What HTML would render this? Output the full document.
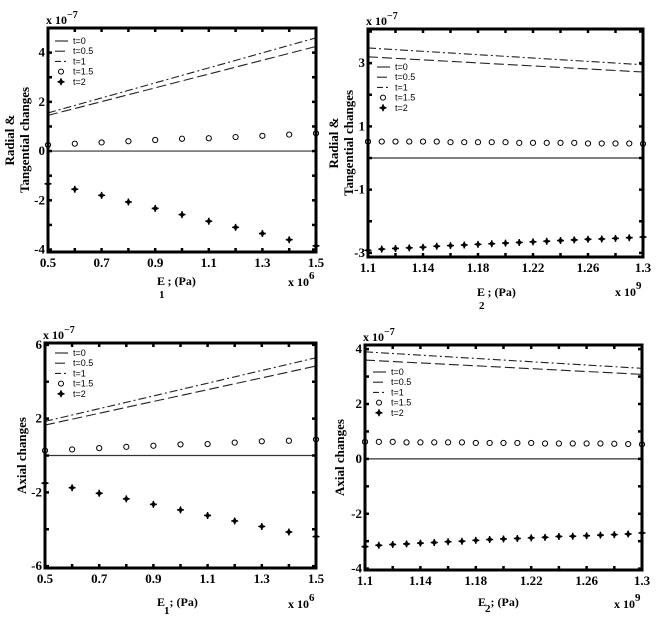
<!DOCTYPE html>
<html><head><meta charset="utf-8">
<style>
html,body{margin:0;padding:0;background:#fff;}
svg{display:block;}
text{font-family:"Liberation Serif",serif;font-weight:bold;fill:#000;}
.lg{font-family:"Liberation Sans",sans-serif;font-weight:normal;font-size:9px;}
</style></head>
<body>
<svg id="c" width="660" height="623" viewBox="0 0 660 623" xmlns="http://www.w3.org/2000/svg"></svg>
<script>
// ---- data (units of 1e-7) ----
const xE1 = [0.5,0.6,0.7,0.8,0.9,1.0,1.1,1.2,1.3,1.4,1.5];
const xE2 = [1.10,1.11,1.12,1.13,1.14,1.15,1.16,1.17,1.18,1.19,1.20,1.21,1.22,1.23,1.24,1.25,1.26,1.27,1.28,1.29,1.30];

// panel A: radial & tangential vs E1
const aT0 = [0,0];
const aT05 = [1.45,4.25];
const aT1 = [1.55,4.6];
const aT15 = [0.25,0.3,0.35,0.4,0.45,0.5,0.52,0.57,0.62,0.67,0.72];
const aT2 = [-1.33,-1.55,-1.8,-2.07,-2.33,-2.58,-2.85,-3.1,-3.35,-3.6,-3.85];

// panel B: radial & tangential vs E2
const bT0 = [0,0];
const bT05 = [3.2,2.72];
const bT1 = [3.48,2.95];
const bT15 = [0.52,0.52,0.52,0.52,0.52,0.52,0.5,0.5,0.5,0.5,0.5,0.48,0.48,0.48,0.48,0.48,0.46,0.46,0.46,0.46,0.45];
const bT2 = [-2.92,-2.88,-2.86,-2.84,-2.82,-2.79,-2.77,-2.75,-2.73,-2.71,-2.69,-2.67,-2.65,-2.63,-2.61,-2.59,-2.57,-2.56,-2.54,-2.52,-2.5];

// panel C: axial vs E1
const cT0 = [0,0];
const cT05 = [1.65,4.85];
const cT1 = [1.85,5.3];
const cT15 = [0.27,0.33,0.4,0.47,0.53,0.6,0.62,0.7,0.77,0.8,0.87];
const cT2 = [-1.5,-1.75,-2.05,-2.35,-2.65,-2.95,-3.25,-3.55,-3.85,-4.15,-4.4];

// panel D: axial vs E2
const dT0 = [0,0];
const dT05 = [3.6,3.08];
const dT1 = [3.9,3.3];
const dT15 = [0.62,0.62,0.62,0.6,0.6,0.6,0.6,0.6,0.58,0.58,0.58,0.58,0.58,0.56,0.56,0.56,0.56,0.56,0.55,0.54,0.53];
const dT2 = [-3.2,-3.15,-3.12,-3.1,-3.07,-3.05,-3.02,-3.0,-2.97,-2.94,-2.92,-2.9,-2.88,-2.86,-2.83,-2.82,-2.8,-2.78,-2.76,-2.74,-2.7];

const xTicksE1 = [0.5,0.6,0.7,0.8,0.9,1.0,1.1,1.2,1.3,1.4,1.5];
const xLabelsE1 = ["0.5","0.7","0.9","1.1","1.3","1.5"];
const xTicksE2 = [1.10,1.12,1.14,1.16,1.18,1.20,1.22,1.24,1.26,1.28,1.30];
const xLabelsE2 = ["1.1","1.14","1.18","1.22","1.26","1.3"];
const yTicksA = [-4,-3,-2,-1,0,1,2,3,4,5];
const yLabelsA = ["4","2","0","-2","-4"];
const yTicksB = [-3,-2,-1,0,1,2,3,4];
const yLabelsB = ["3","1","-1","-3"];
const yTicksC = [-6,-4,-2,0,2,4,6];
const yLabelsC = ["6","2","-2","-6"];
const yTicksD = [-4,-3,-2,-1,0,1,2,3,4];
const yLabelsD = ["4","2","0","-2","-4"];
const legendLabels = ["t=0","t=0.5","t=1","t=1.5","t=2"];

const NS="http://www.w3.org/2000/svg";
const svg=document.getElementById('c');
function mk(tag,attrs,parent){const e=document.createElementNS(NS,tag);for(const k in attrs)e.setAttribute(k,attrs[k]);(parent||svg).appendChild(e);return e;}

function star(x,y,parent){
  return mk('path',{d:`M${x-3.5},${y}Q${x},${y} ${x},${y-3.5}Q${x},${y} ${x+3.5},${y}Q${x},${y} ${x},${y+3.5}Q${x},${y} ${x-3.5},${y}Z`,fill:'#000',stroke:'#000','stroke-width':1.3},parent);
}

function panel(p){
  const g=mk('g',{});
  
  
  const sx=v=>p.x0+(v-p.xmin)/(p.xmax-p.xmin)*(p.x1-p.x0);
  const sy=v=>p.y1-(v-p.ymin)/(p.ymax-p.ymin)*(p.y1-p.y0);
  const l0=mk('line',{x1:sx(p.xs[0]),x2:sx(p.xs[p.xs.length-1]),y1:sy(p.t0[0]),y2:sy(p.t0[1]),stroke:'#333','stroke-width':1.2},g);
  
  
  const l1=mk('line',{x1:sx(p.xs[0]),x2:sx(p.xs[p.xs.length-1]),y1:sy(p.t05[0]),y2:sy(p.t05[1]),stroke:'#222','stroke-width':1.1,'stroke-dasharray':'10 4'},g);
  
  
  const l2=mk('line',{x1:sx(p.xs[0]),x2:sx(p.xs[p.xs.length-1]),y1:sy(p.t1[0]),y2:sy(p.t1[1]),stroke:'#222','stroke-width':1.1,'stroke-dasharray':'8 3 2 3'},g);
  
  
  p.t15.forEach((v,i)=>{
    const c=mk('circle',{cx:sx(p.xs[i]),cy:sy(v),r:2.6,fill:'none',stroke:'#000','stroke-width':1},g);
    
    
  });
  p.t2.forEach((v,i)=>{
    const s=star(sx(p.xs[i]),sy(v),g);
    
    
  });
  const fr=mk('rect',{x:p.x0,y:p.y0,width:p.x1-p.x0,height:p.y1-p.y0,fill:'none',stroke:'#000','stroke-width':3},g);
  
  
  p.xt.forEach(v=>{
    mk('line',{x1:sx(v),x2:sx(v),y1:p.y1,y2:p.y1-4,stroke:'#000','stroke-width':2.5},g);
    mk('line',{x1:sx(v),x2:sx(v),y1:p.y0,y2:p.y0+4,stroke:'#000','stroke-width':2.5},g);
  });
  p.yt.forEach(v=>{
    mk('line',{x1:p.x0,x2:p.x0+4,y1:sy(v),y2:sy(v),stroke:'#000','stroke-width':2.5},g);
    mk('line',{x1:p.x1,x2:p.x1-4,y1:sy(v),y2:sy(v),stroke:'#000','stroke-width':2.5},g);
  });
  p.xl.forEach(s=>{
    const t=mk('text',{x:sx(parseFloat(s)),y:p.y1+15,'text-anchor':'middle','font-size':13},g);t.textContent=s;
    
    
  });
  p.yl.forEach(s=>{
    const t=mk('text',{x:p.x0-3,y:sy(parseFloat(s))+4,'text-anchor':'end','font-size':13},g);t.textContent=s;
    
    
  });
  const ey=mk('text',{x:p.x0-2,y:p.y0-4,'font-size':12},g);
  ey.innerHTML='x 10<tspan dy="-6" font-size="10">−7</tspan>';
  
  
  const ex=mk('text',{x:p.x1-28,y:p.xexpY,'font-size':12},g);
  ex.innerHTML='x 10<tspan dy="-7" font-size="11">'+p.xexp+'</tspan>';
  
  
  const xl=mk('text',{x:p.xlabX,y:p.xlabY,'font-size':12},g);
  xl.innerHTML='E<tspan font-size="11" dx="-'+(p.subGap?1:6)+'" dy="'+p.subDy+'">'+p.sub+'</tspan><tspan dy="'+(-p.subDy)+'">'+ (p.subGap?';':' ; ') +' (Pa)</tspan>';
  
  
  const yl=mk('text',{transform:`translate(${p.ylabX},${(p.y0+p.y1)/2}) rotate(-90)`,'text-anchor':'middle','font-size':13},g);
  if(p.ylab.length===2){
    yl.innerHTML='<tspan x="0" dy="0">'+p.ylab[0]+'</tspan><tspan x="0" dy="15">'+p.ylab[1]+'</tspan>';
  } else yl.textContent=p.ylab[0];
  
  
  const lg=mk('g',{},g);
  
  
  legendLabels.forEach((s,i)=>{
    const y=p.lgY+i*10.2, x=p.lgX;
    if(i===0) mk('line',{x1:x,x2:x+13,y1:y,y2:y,stroke:'#333','stroke-width':1.2},lg);
    if(i===1) mk('line',{x1:x,x2:x+13,y1:y,y2:y,stroke:'#222','stroke-width':1.1,'stroke-dasharray':'10 4'},lg);
    if(i===2) mk('line',{x1:x,x2:x+13,y1:y,y2:y,stroke:'#222','stroke-width':1.1,'stroke-dasharray':'6 3 2 3'},lg);
    if(i===3) mk('circle',{cx:x+6,cy:y,r:2.5,fill:'none',stroke:'#000'},lg);
    if(i===4) star(x+6,y,lg);
    const t=mk('text',{x:x+18,y:y+3,'class':'lg'},lg);t.textContent=s;
    
    
  });
}

panel({name:'panel-radial-e1',x0:48,x1:316,y0:28,y1:252,xmin:0.5,xmax:1.5,ymin:-4.1,ymax:5.0,
  xs:xE1,t0:aT0,t05:aT05,t1:aT1,t15:aT15,t2:aT2,xt:xTicksE1,yt:yTicksA,xl:xLabelsE1,yl:yLabelsA,
  xexp:'6',xexpY:286,xlabX:157,xlabY:285,sub:'1',subDy:13,subGap:false,ylabX:14,ylab:['Radial &','Tangential changes'],lgX:55,lgY:41});
panel({name:'panel-radial-e2',x0:368,x1:643,y0:29,y1:257,xmin:1.1,xmax:1.3,ymin:-3.13,ymax:4.08,
  xs:xE2,t0:bT0,t05:bT05,t1:bT1,t15:bT15,t2:bT2,xt:xTicksE2,yt:yTicksB,xl:xLabelsE2,yl:yLabelsB,
  xexp:'9',xexpY:296,xlabX:477,xlabY:296,sub:'2',subDy:13,subGap:false,ylabX:338,ylab:['Radial &','Tangential changes'],lgX:377,lgY:67});
panel({name:'panel-axial-e1',x0:45,x1:316,y0:343,y1:568,xmin:0.5,xmax:1.5,ymin:-6.1,ymax:6.1,
  xs:xE1,t0:cT0,t05:cT05,t1:cT1,t15:cT15,t2:cT2,xt:xTicksE1,yt:yTicksC,xl:xLabelsE1,yl:yLabelsC,
  xexp:'6',xexpY:608,xlabX:157,xlabY:606,sub:'1',subDy:8,subGap:true,ylabX:26,ylab:['Axial changes'],lgX:55,lgY:353});
panel({name:'panel-axial-e2',x0:365,x1:642,y0:345,y1:570,xmin:1.1,xmax:1.3,ymin:-4.05,ymax:4.15,
  xs:xE2,t0:dT0,t05:dT05,t1:dT1,t15:dT15,t2:dT2,xt:xTicksE2,yt:yTicksD,xl:xLabelsE2,yl:yLabelsD,
  xexp:'9',xexpY:608,xlabX:478,xlabY:606,sub:'2',subDy:6,subGap:true,ylabX:344,ylab:['Axial changes'],lgX:373,lgY:372});
</script>
</body></html>
